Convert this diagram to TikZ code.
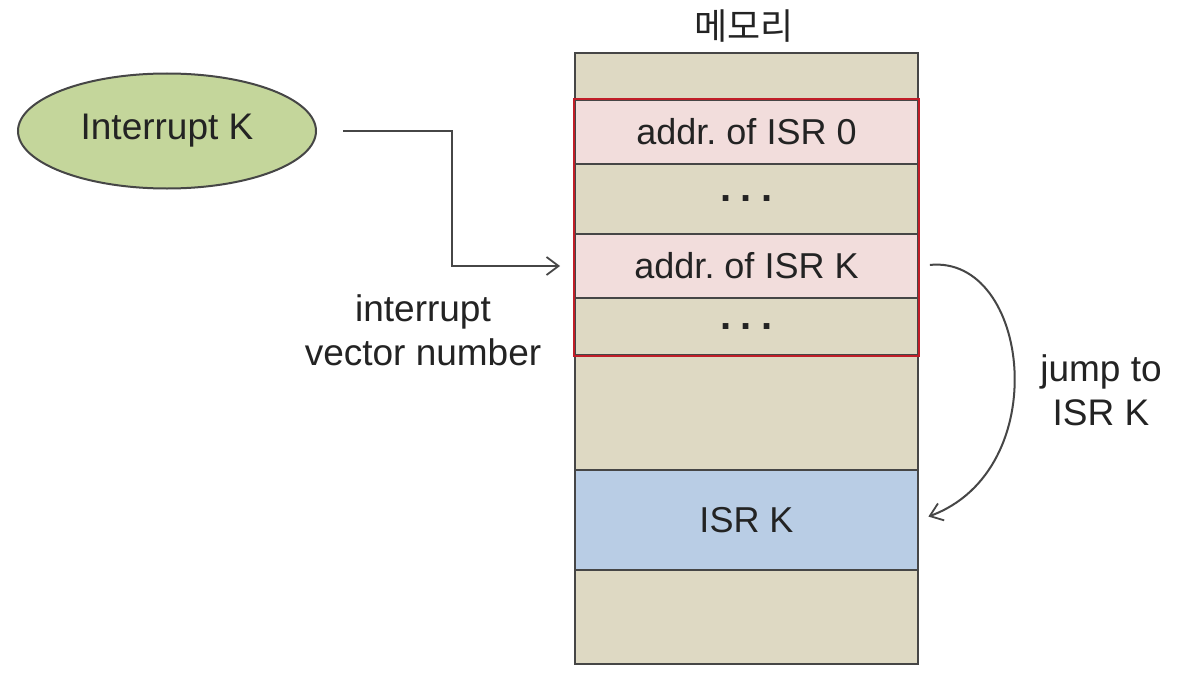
\documentclass[tikz,border=0pt]{standalone}
\usepackage{fontspec}
\setmainfont{Liberation Sans}
\newfontfamily\krfont{Noto Sans CJK KR}
\usetikzlibrary{shapes.geometric,arrows.meta}
\frenchspacing
\definecolor{tanfill}{RGB}{222,217,195}
\definecolor{pinkfill}{RGB}{242,221,220}
\definecolor{bluefill}{RGB}{185,205,229}
\definecolor{greenfill}{RGB}{196,214,155}
\definecolor{redline}{RGB}{192,30,40}
\definecolor{gline}{RGB}{70,70,70}
\definecolor{txt}{RGB}{35,35,35}
\tikzset{
  cell/.style={draw=gline, line width=2pt, anchor=north west, minimum width=343pt, inner sep=0pt, text=txt, font=\fontsize{36}{42}\selectfont},
  arr/.style={draw=gline, line width=2pt, -{Straight Barb[length=12pt,width=18pt,line width=1.8pt]}},
  lbl/.style={text=txt, align=center, font=\fontsize{37}{44}\selectfont},
  dots/.style={font=\fontsize{40}{42}\bfseries\selectfont},
}
\begin{document}
\begin{tikzpicture}[x=1pt,y=-1pt]
\useasboundingbox (0,0) rectangle (1183,677);
\fill[white] (0,0) rectangle (1183,677);
\node[cell, fill=tanfill,  minimum height=47pt]  (r0) at (574,52)  {};
\node[cell, fill=pinkfill, minimum height=64pt]  (r1) at (574,99)  {addr. of ISR 0};
\node[cell, fill=tanfill,  minimum height=70pt, dots]  (r2) at (574,163) {.\hspace{9pt}.\hspace{9pt}.};
\node[cell, fill=pinkfill, minimum height=64pt]  (r3) at (574,233) {addr. of ISR K};
\node[cell, fill=tanfill,  minimum height=57pt, dots]  (r4) at (574,297) {.\hspace{9pt}.\hspace{9pt}.};
\node[cell, fill=tanfill,  minimum height=115pt] (r5) at (574,354) {};
\node[cell, fill=bluefill, minimum height=100pt] (r6) at (574,469) {ISR K};
\node[cell, fill=tanfill,  minimum height=94pt]  (r7) at (574,569) {};
\draw[redline, line width=2.2pt] (r1.north west) rectangle (r4.south east);
\node[text=txt, font=\krfont\fontsize{36}{40}\selectfont] (title) at (744,26) {메모리};
\node[ellipse, draw=gline, line width=2pt, fill=greenfill, minimum width=298pt, minimum height=115pt, inner sep=0pt, text=txt, font=\fontsize{37}{44}\selectfont] (ell) at (167,131) {Interrupt K};
\coordinate (bend) at (452,265);
\draw[arr, shorten <=26pt, shorten >=14pt] (ell.east) -| (bend) |- (r3.west);
\node[lbl] (ivn) at (423,330) {interrupt\\vector number};
\draw[arr, shorten <=11pt, shorten >=10pt] (r3.east) .. controls (1030,255) and (1055,470) .. (r6.east);
\node[lbl] (jmp) at (1101,390) {jump to\\ISR K};
\end{tikzpicture}
\end{document}
